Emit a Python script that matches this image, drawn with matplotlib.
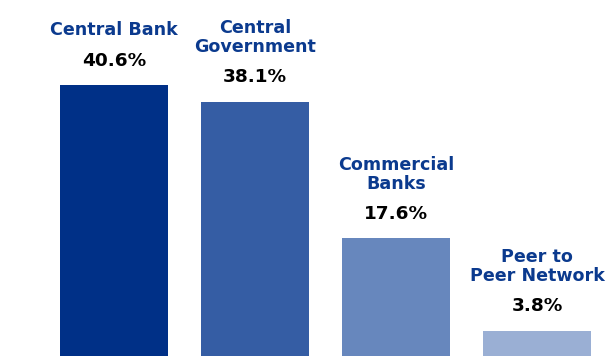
import matplotlib
matplotlib.use("Agg")
from matplotlib import pyplot as plt
import numpy as np

# Share of holders by issuer type
categories = ["Central Bank", "Central\nGovernment", "Commercial\nBanks", "Peer to\nPeer Network"]
shares = [40.6, 38.1, 17.6, 3.8]
bar_colors = ["#003087", "#355DA4", "#6787BD", "#9AAFD4"]
label_color = "#0B3A8E"

plt.rcParams['font.family'] = ['DejaVu Sans']

fig = plt.figure(figsize=(6.11, 3.56), dpi=100)
ax = fig.add_axes([0, 0, 1, 1])

x = np.arange(len(categories))
bars = ax.bar(x, shares, width=0.766, color=bar_colors)

for xi, val, name in zip(x, shares, categories):
    ax.annotate(f"{val}%", (xi, val), xytext=(0, 11), textcoords="offset points",
                ha="center", va="bottom", fontsize=13.3, fontweight="bold", color="black")
    ax.annotate(name, (xi, val), xytext=(0, 33), textcoords="offset points",
                ha="center", va="bottom", fontsize=12.6, fontweight="bold",
                color=label_color, linespacing=1.05)

ax.set_xlim(-0.809, 3.525)
ax.set_ylim(0, 53.3)
ax.axis("off")

plt.savefig("out.png", dpi=100)
